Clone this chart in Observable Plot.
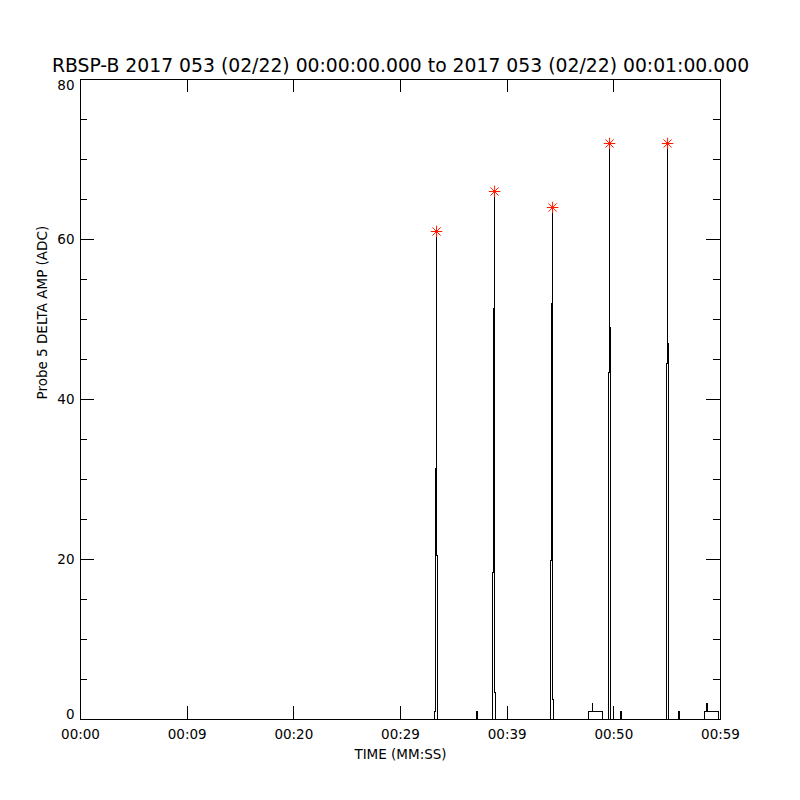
<!DOCTYPE html>
<html>
<head>
<meta charset="utf-8">
<script src="https://cdn.jsdelivr.net/npm/d3@7"></script>
<script src="https://cdn.jsdelivr.net/npm/@observablehq/plot@0.6"></script>
<style>
  html, body { margin: 0; padding: 0; background: #fff; }
  #chart svg .crisp path, #chart svg .crisp line { shape-rendering: crispEdges; }
</style>
</head>
<body>
<div id="chart"></div>
<script>
// ---- data (seconds since 00:00:00, ADC counts; sample-and-hold steps) ----
const times = [
  0,
  33.20, 33.29, 33.38, 33.39, 33.48,
  37.13, 37.23,
  38.63, 38.73, 38.82, 38.83, 38.92,
  44.07, 44.17, 44.26, 44.27, 44.35,
  47.63, 48.01, 48.02, 48.95,
  49.51, 49.60, 49.61, 49.70,
  50.63, 50.73,
  54.95, 55.04, 55.05, 55.13,
  56.07, 56.17,
  58.51, 58.70, 58.79, 59.82,
  60
];
const amps = [
  0,
  1, 31.4, 61, 20.5, 0,
  1, 0,
  18.4, 51.4, 66, 3.4, 0,
  19.9, 52, 64, 2.5, 0,
  1, 2, 1, 0,
  43.4, 72, 49, 0,
  1, 0,
  44.5, 72, 47, 0,
  1, 0,
  1, 2, 1, 0,
  0
];
const peakTimes = [33.38, 38.82, 44.26, 49.60, 55.04];
const peakAmps = [61, 66, 64, 72, 72];

const xTickValues = [0, 10, 20, 30, 40, 50, 60];
const xTickLabels = ["00:00", "00:09", "00:20", "00:29", "00:39", "00:50", "00:59"];
const yMajorTicks = [0, 20, 40, 60, 80];
const yMinorTicks = [5, 10, 15, 25, 30, 35, 45, 50, 55, 65, 70, 75];

const titleText = "RBSP-B 2017 053 (02/22) 00:00:00.000 to 2017 053 (02/22) 00:01:00.000";
const xTitle = "TIME (MM:SS)";
const yTitle = "Probe 5 DELTA AMP (ADC)";

// ---- build tables ----
const series = times.map((t, i) => ({t, v: amps[i]}));
const peaks = peakTimes.map((t, i) => ({t, v: peakAmps[i]}));
const xTicks = xTickValues.map((v, i) => ({v, label: xTickLabels[i]}));

const W = 800, H = 800;
const mL = 80, mR = 80, mT = 79, mB = 81;
const pw = W - mL - mR, ph = H - mT - mB;
const font = "DejaVu Sans";
const fs = 13.5;

const plot = Plot.plot({
  width: W,
  height: H,
  marginLeft: mL,
  marginRight: mR,
  marginTop: mT,
  marginBottom: mB,
  style: {fontFamily: font, background: "#fff", color: "#000"},
  x: {domain: [0, 60], axis: null},
  y: {domain: [0, 80], axis: null},
  marks: [
    // tick marks inside the frame (IDL style), all four sides
    Plot.ruleX(xTickValues, {x: d => d, insetTop: ph - 13, stroke: "black", className: "crisp"}),
    Plot.ruleX(xTickValues, {x: d => d, insetBottom: ph - 13, stroke: "black", className: "crisp"}),
    Plot.ruleY(yMajorTicks, {y: d => d, insetRight: pw - 14, stroke: "black", className: "crisp"}),
    Plot.ruleY(yMajorTicks, {y: d => d, insetLeft: pw - 14, stroke: "black", className: "crisp"}),
    Plot.ruleY(yMinorTicks, {y: d => d, insetRight: pw - 7, stroke: "black", className: "crisp"}),
    Plot.ruleY(yMinorTicks, {y: d => d, insetLeft: pw - 7, stroke: "black", className: "crisp"}),
    // data line
    Plot.line(series, {x: "t", y: "v", curve: "step-after", stroke: "black", strokeWidth: 1, className: "crisp"}),
    // peak markers (asterisks)
    Plot.dot(peaks, {x: "t", y: "v", symbol: "plus", r: 3.8, stroke: "#ff1a00", strokeWidth: 1}),
    Plot.dot(peaks, {x: "t", y: "v", symbol: "times", r: 3.8, stroke: "#ff1a00", strokeWidth: 1}),
    Plot.dot(peaks, {x: "t", y: "v", r: 1.3, fill: "#ff1a00"}),
    // frame
    Plot.frame({stroke: "black", className: "crisp"}),
    // x tick labels
    Plot.text(xTicks, {x: "v", text: "label", frameAnchor: "bottom", dy: 19, fontSize: fs, fill: "black"}),
    // y tick labels
    Plot.text(yMajorTicks.filter(d => d > 0 && d < 80), {y: d => d, text: d => String(d), frameAnchor: "left", dx: -6, textAnchor: "end", fontSize: fs, fill: "black"}),
    Plot.text(yMajorTicks.filter(d => d === 80), {y: d => d, text: d => String(d), frameAnchor: "left", dx: -6, dy: 6.5, textAnchor: "end", fontSize: fs, fill: "black"}),
    Plot.text(yMajorTicks.filter(d => d === 0), {y: d => d, text: d => String(d), frameAnchor: "left", dx: -6, dy: -4.5, textAnchor: "end", fontSize: fs, fill: "black"}),
    // titles
    Plot.text([titleText], {text: d => d, frameAnchor: "top", dy: -21, fontSize: 18.8, fill: "black"}),
    Plot.text([xTitle], {text: d => d, frameAnchor: "bottom", dy: 39, fontSize: fs, fill: "black"}),
    Plot.text([yTitle], {text: d => d, frameAnchor: "left", dx: -38, rotate: -90, fontSize: fs, fill: "black"})
  ]
});
document.getElementById("chart").appendChild(plot);
</script>
</body>
</html>
